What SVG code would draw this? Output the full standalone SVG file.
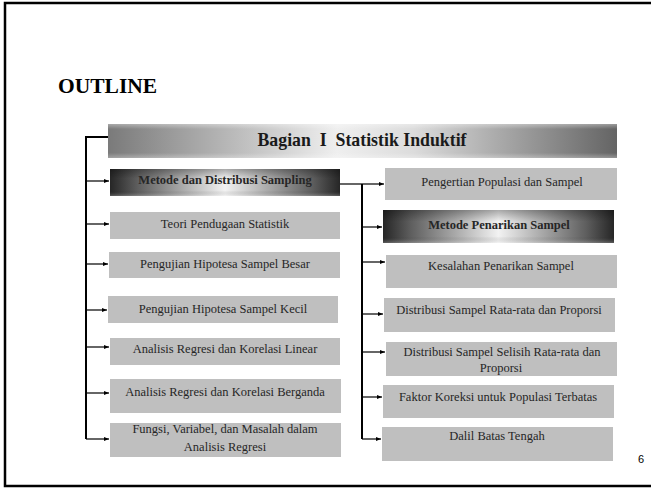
<svg xmlns="http://www.w3.org/2000/svg" width="651" height="488" viewBox="0 0 651 488">
<style>
  .box { fill: #bfbfbf; }
  .t { font-family: "Liberation Serif", "Times New Roman", serif; font-size: 12.5px; fill: #262626; text-anchor: middle; }
  .tb { font-family: "Liberation Serif", "Times New Roman", serif; font-size: 12.5px; font-weight: bold; fill: #262626; text-anchor: middle; }
  .ln { stroke: #000; stroke-width: 2; fill: none; }
  .ar { stroke: #000; stroke-width: 1.2; fill: none; marker-end: url(#ah); }
</style>
<defs>
  <marker id="ah" viewBox="0 0 10 10" refX="10" refY="5" markerWidth="5" markerHeight="5" markerUnits="userSpaceOnUse" orient="auto">
    <path d="M0,1 L10,5 L0,9 z" fill="#000"/>
  </marker>
  <linearGradient id="banner" x1="0" y1="0" x2="1" y2="0">
    <stop offset="0" stop-color="#7a7a7a"/>
    <stop offset="0.45" stop-color="#efefef"/>
    <stop offset="0.6" stop-color="#dcdcdc"/>
    <stop offset="1" stop-color="#646464"/>
  </linearGradient>
  <linearGradient id="bannerV" x1="0" y1="0" x2="0" y2="1">
    <stop offset="0" stop-color="#fff" stop-opacity="0.35"/>
    <stop offset="0.15" stop-color="#fff" stop-opacity="0"/>
    <stop offset="0.85" stop-color="#fff" stop-opacity="0"/>
    <stop offset="1" stop-color="#fff" stop-opacity="0.3"/>
  </linearGradient>
  <linearGradient id="darkH" x1="0" y1="0" x2="1" y2="0">
    <stop offset="0" stop-color="#262626"/>
    <stop offset="0.12" stop-color="#5e5e5e"/>
    <stop offset="0.5" stop-color="#f2f2f2"/>
    <stop offset="0.88" stop-color="#5e5e5e"/>
    <stop offset="1" stop-color="#262626"/>
  </linearGradient>
  <linearGradient id="darkV" x1="0" y1="0" x2="0" y2="1">
    <stop offset="0" stop-color="#000" stop-opacity="0.3"/>
    <stop offset="0.35" stop-color="#000" stop-opacity="0"/>
    <stop offset="0.8" stop-color="#000" stop-opacity="0"/>
    <stop offset="1" stop-color="#fff" stop-opacity="0.25"/>
  </linearGradient>
</defs>
<rect x="5" y="3" width="700" height="483" fill="#fff" stroke="#000" stroke-width="2.5"/>
<text x="58" y="93" font-family="Liberation Serif, Times New Roman, serif" font-size="21.5" font-weight="bold" fill="#000">OUTLINE</text>
<text x="641" y="463" font-family="Liberation Sans, Arial, sans-serif" font-size="11" fill="#000" text-anchor="middle">6</text>

<g id="banner-node">
  <rect x="108" y="124" width="509" height="34" fill="url(#banner)"/>
  <rect x="108" y="124" width="509" height="34" fill="url(#bannerV)"/>
  <text x="362" y="146" font-family="Liberation Serif, Times New Roman, serif" font-size="17.8" font-weight="bold" fill="#1a1a1a" text-anchor="middle" xml:space="preserve">Bagian  I  Statistik Induktif</text>
</g>

<g id="connectors">
  <polyline class="ln" points="108,137 86,137 86,439"/>
  <line class="ar" x1="86" y1="181" x2="109" y2="181"/>
  <line class="ar" x1="86" y1="224" x2="109" y2="224"/>
  <line class="ar" x1="86" y1="264" x2="108" y2="264"/>
  <line class="ar" x1="86" y1="310" x2="107" y2="310"/>
  <line class="ar" x1="86" y1="347" x2="109" y2="347"/>
  <line class="ar" x1="86" y1="393" x2="109" y2="393"/>
  <line class="ar" x1="86" y1="439" x2="109" y2="439"/>
  <line x1="340" y1="184" x2="362" y2="184" stroke="#000" stroke-width="1.2"/>
  <line class="ln" x1="362" y1="184" x2="362" y2="439"/>
  <line class="ar" x1="362" y1="184" x2="384" y2="184"/>
  <line class="ar" x1="362" y1="227" x2="382" y2="227"/>
  <line class="ar" x1="362" y1="262" x2="385" y2="262"/>
  <line class="ar" x1="362" y1="314" x2="383" y2="314"/>
  <line class="ar" x1="362" y1="352" x2="385" y2="352"/>
  <line class="ar" x1="362" y1="397" x2="382" y2="397"/>
  <line class="ar" x1="362" y1="439" x2="381" y2="439"/>
</g>

<g id="n-metode-distribusi">
  <rect x="110" y="169" width="230" height="27" fill="url(#darkH)"/>
  <rect x="110" y="169" width="230" height="27" fill="url(#darkV)"/>
  <text class="tb" x="225" y="184">Metode dan Distribusi Sampling</text>
</g>
<g id="n-teori">
  <rect class="box" x="110" y="212" width="230" height="27"/>
  <text class="t" x="225" y="228">Teori Pendugaan Statistik</text>
</g>
<g id="n-besar">
  <rect class="box" x="109" y="252" width="231" height="26"/>
  <text class="t" x="225" y="268">Pengujian Hipotesa Sampel Besar</text>
</g>
<g id="n-kecil">
  <rect class="box" x="108" y="296" width="230" height="27"/>
  <text class="t" x="223" y="313">Pengujian Hipotesa Sampel Kecil</text>
</g>
<g id="n-linear">
  <rect class="box" x="110" y="338" width="230" height="27"/>
  <text class="t" x="225" y="353">Analisis Regresi dan Korelasi Linear</text>
</g>
<g id="n-berganda">
  <rect class="box" x="110" y="379" width="231" height="34"/>
  <text class="t" x="225" y="396">Analisis Regresi dan Korelasi Berganda</text>
</g>
<g id="n-fungsi">
  <rect class="box" x="110" y="423" width="231" height="34"/>
  <text class="t" x="225" y="433">Fungsi, Variabel, dan Masalah dalam</text>
  <text class="t" x="225" y="451">Analisis Regresi</text>
</g>

<g id="n-pengertian">
  <rect class="box" x="385" y="168" width="232" height="32"/>
  <text class="t" x="502" y="186">Pengertian Populasi dan Sampel</text>
</g>
<g id="n-metode-penarikan">
  <rect x="383" y="210" width="231" height="33" fill="url(#darkH)"/>
  <rect x="383" y="210" width="231" height="33" fill="url(#darkV)"/>
  <text class="tb" x="499" y="229">Metode Penarikan Sampel</text>
</g>
<g id="n-kesalahan">
  <rect class="box" x="386" y="255" width="231" height="33"/>
  <text class="t" x="501" y="270">Kesalahan Penarikan Sampel</text>
</g>
<g id="n-dist-rata">
  <rect class="box" x="384" y="298" width="231" height="34"/>
  <text class="t" x="499" y="314">Distribusi Sampel Rata-rata dan Proporsi</text>
</g>
<g id="n-dist-selisih">
  <rect class="box" x="386" y="342" width="231" height="34"/>
  <text class="t" x="502" y="356">Distribusi Sampel Selisih Rata-rata dan</text>
  <text class="t" x="501" y="372">Proporsi</text>
</g>
<g id="n-faktor">
  <rect class="box" x="383" y="385" width="231" height="33"/>
  <text class="t" x="498" y="401">Faktor Koreksi untuk Populasi Terbatas</text>
</g>
<g id="n-dalil">
  <rect class="box" x="382" y="427" width="231" height="34"/>
  <text class="t" x="497" y="440">Dalil Batas Tengah</text>
</g>
</svg>
